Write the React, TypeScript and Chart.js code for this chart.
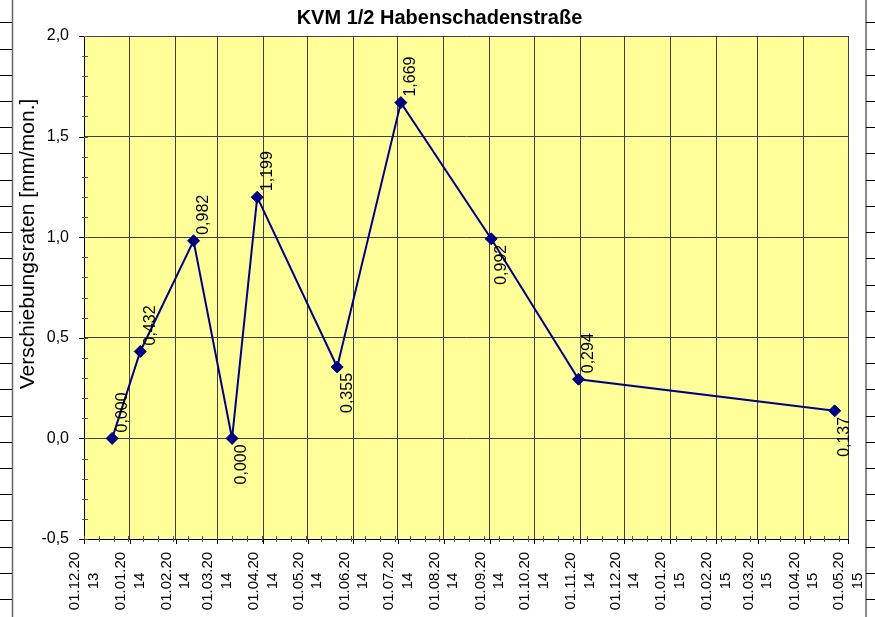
import React, { useEffect, useRef } from 'react';
import { Chart, registerables } from 'chart.js';

Chart.register(...registerables);

const TITLE = 'KVM 1/2 Habenschadenstraße';
const Y_TITLE = 'Verschiebungsraten [mm/mon.]';

// measurement dates (dd.mm.yyyy) and displacement rates [mm/mon.]
const MEASURE_DATES = [
  '20.12.2013', '08.01.2014', '13.02.2014', '11.03.2014', '28.03.2014',
  '21.05.2014', '03.07.2014', '02.09.2014', '31.10.2014', '22.04.2015',
];
const RATES = [0.0, 0.432, 0.982, 0.0, 1.199, 0.355, 1.669, 0.992, 0.294, 0.137];
const LABEL_SIDE = ['above', 'above', 'above', 'below', 'above', 'below', 'above', 'below', 'above', 'below'];

const X_TICK_LABELS = [
  '01.12.2013', '01.01.2014', '01.02.2014', '01.03.2014', '01.04.2014', '01.05.2014',
  '01.06.2014', '01.07.2014', '01.08.2014', '01.09.2014', '01.10.2014', '01.11.2014',
  '01.12.2014', '01.01.2015', '01.02.2015', '01.03.2015', '01.04.2015', '01.05.2015',
];
const Y_TICKS = [-0.5, 0.0, 0.5, 1.0, 1.5, 2.0];
const Y_MINOR_STEP = 0.1;
const X_MINOR_STEP_DAYS = 10;

const FONT = '"Liberation Sans", Arial, sans-serif';
const NAVY = '#000080';

function parseDay(s: string): number {
  const [d, m, y] = s.split('.').map(Number);
  const [bd, bm, by] = X_TICK_LABELS[0].split('.').map(Number);
  const base = Date.UTC(by, bm - 1, bd);
  return Math.round((Date.UTC(y, m - 1, d) - base) / 86400000);
}

const fmt = (v: number, dec: number) => v.toFixed(dec).replace('.', ',');

const decorPlugin = {
  id: 'decor',
  beforeDraw(chart: any) {
    const { ctx, chartArea: a, width, height } = chart;
    ctx.save();
    ctx.fillStyle = '#FFFF99';
    ctx.fillRect(a.left, a.top, a.right - a.left, a.bottom - a.top);
    // page frame lines with ticks (left and right)
    ctx.strokeStyle = '#666';
    ctx.lineWidth = 1.5;
    ctx.beginPath();
    ctx.moveTo(12.5, 0);
    ctx.lineTo(12.5, height);
    ctx.moveTo(866, 0);
    ctx.lineTo(866, height);
    ctx.stroke();
    ctx.strokeStyle = '#000';
    ctx.lineWidth = 1;
    ctx.beginPath();
    for (let y = 22.3; y < height; y += 26.22) {
      const yy = Math.round(y) + 0.5;
      ctx.moveTo(0, yy);
      ctx.lineTo(12, yy);
      ctx.moveTo(866, yy);
      ctx.lineTo(width, yy);
    }
    ctx.stroke();
    ctx.restore();
  },
  afterDatasetsDraw(chart: any) {
    const { ctx } = chart;
    const meta = chart.getDatasetMeta(0);
    ctx.save();
    ctx.fillStyle = '#000';
    ctx.font = `16px ${FONT}`;
    ctx.textBaseline = 'middle';
    meta.data.forEach((pt: any, i: number) => {
      const above = LABEL_SIDE[i] === 'above';
      ctx.save();
      ctx.translate(pt.x + 10, above ? pt.y - 6 : pt.y + 6);
      ctx.rotate(-Math.PI / 2);
      ctx.textAlign = above ? 'left' : 'right';
      ctx.fillText(fmt(RATES[i], 3), 0, 0);
      ctx.restore();
    });
    ctx.restore();
  },
  afterDraw(chart: any) {
    const { ctx, chartArea: a, scales } = chart;
    const xs = scales.x;
    const ys = scales.y;
    ctx.save();
    // y minor ticks
    ctx.strokeStyle = '#555';
    ctx.lineWidth = 1;
    ctx.beginPath();
    for (let v = Y_TICKS[0]; v <= Y_TICKS[Y_TICKS.length - 1] + 1e-9; v += Y_MINOR_STEP) {
      const y = Math.round(ys.getPixelForValue(v)) + 0.5;
      ctx.moveTo(a.left - 2, y);
      ctx.lineTo(a.left + 4, y);
    }
    // x minor ticks
    const maxDay = parseDay(X_TICK_LABELS[X_TICK_LABELS.length - 1]);
    for (let d = 0; d <= maxDay; d += X_MINOR_STEP_DAYS) {
      const x = Math.round(xs.getPixelForValue(d)) + 0.5;
      ctx.moveTo(x, a.bottom - 3);
      ctx.lineTo(x, a.bottom + 3);
    }
    ctx.stroke();
    // major ticks
    ctx.strokeStyle = '#000';
    ctx.beginPath();
    Y_TICKS.forEach((v) => {
      const y = Math.round(ys.getPixelForValue(v)) + 0.5;
      ctx.moveTo(a.left - 5, y);
      ctx.lineTo(a.left, y);
    });
    X_TICK_LABELS.forEach((l) => {
      const x = Math.round(xs.getPixelForValue(parseDay(l))) + 0.5;
      ctx.moveTo(x, a.bottom);
      ctx.lineTo(x, a.bottom + 5);
    });
    ctx.stroke();
    // x tick labels (wrapped, rotated)
    ctx.fillStyle = '#000';
    ctx.font = `15px ${FONT}`;
    ctx.textAlign = 'center';
    ctx.textBaseline = 'middle';
    X_TICK_LABELS.forEach((l) => {
      const x = xs.getPixelForValue(parseDay(l));
      const lines = [l.slice(0, 8), l.slice(8)];
      lines.forEach((t, k) => {
        ctx.save();
        ctx.translate(x + (k === 0 ? -9 : 9.5), 581);
        ctx.rotate(-Math.PI / 2);
        ctx.fillText(t, 0, 0);
        ctx.restore();
      });
    });
    // y axis title
    ctx.font = `21px ${FONT}`;
    ctx.save();
    ctx.translate(28, 244);
    ctx.rotate(-Math.PI / 2);
    ctx.fillText(Y_TITLE, 0, 0);
    ctx.restore();
    // chart title
    ctx.font = `bold 20px ${FONT}`;
    ctx.fillText(TITLE, 439.5, 18);
    ctx.restore();
  },
};

export default function App() {
  const ref = useRef<HTMLCanvasElement>(null);

  useEffect(() => {
    if (!ref.current) return;
    const xDays = MEASURE_DATES.map(parseDay);
    const totalDays = parseDay(X_TICK_LABELS[X_TICK_LABELS.length - 1]);
    const chart = new Chart(ref.current, {
      type: 'line',
      data: {
        datasets: [
          {
            data: xDays.map((x, i) => ({ x, y: RATES[i] })),
            borderColor: NAVY,
            backgroundColor: NAVY,
            borderWidth: 2,
            pointStyle: 'rectRot',
            pointRadius: 6,
            pointBorderWidth: 1,
            pointBorderColor: NAVY,
            pointBackgroundColor: NAVY,
            tension: 0,
            fill: false,
          },
        ],
      },
      options: {
        animation: false,
        responsive: false,
        events: [],
        layout: { padding: { left: 0, right: 27, top: 36, bottom: 0 } },
        plugins: {
          legend: { display: false },
          tooltip: { enabled: false },
          title: { display: false },
        },
        scales: {
          x: {
            type: 'linear',
            min: 0,
            max: totalDays,
            afterBuildTicks: (s: any) => {
              s.ticks = X_TICK_LABELS.map((l) => ({ value: parseDay(l) }));
            },
            afterFit: (s: any) => {
              s.height = 78;
            },
            ticks: { display: false },
            grid: { color: '#404040', lineWidth: 1, drawTicks: false },
            border: { color: '#000', width: 1 },
          },
          y: {
            type: 'linear',
            min: Y_TICKS[0],
            max: Y_TICKS[Y_TICKS.length - 1],
            afterBuildTicks: (s: any) => {
              s.ticks = Y_TICKS.map((v) => ({ value: v }));
            },
            afterFit: (s: any) => {
              s.width = 84;
            },
            ticks: {
              color: '#000',
              padding: 15,
              font: { family: FONT, size: 16 },
              callback: (v: any) => fmt(Number(v), 1),
            },
            grid: { color: '#404040', lineWidth: 1, drawTicks: false },
            border: { color: '#000', width: 1 },
          },
        },
      },
      plugins: [decorPlugin],
    });
    return () => chart.destroy();
  }, []);

  return (
    <div style={{ position: 'fixed', left: 0, top: 0, width: 875, height: 617, background: '#fff' }}>
      <canvas ref={ref} width={875} height={617} style={{ display: 'block' }} />
    </div>
  );
}
